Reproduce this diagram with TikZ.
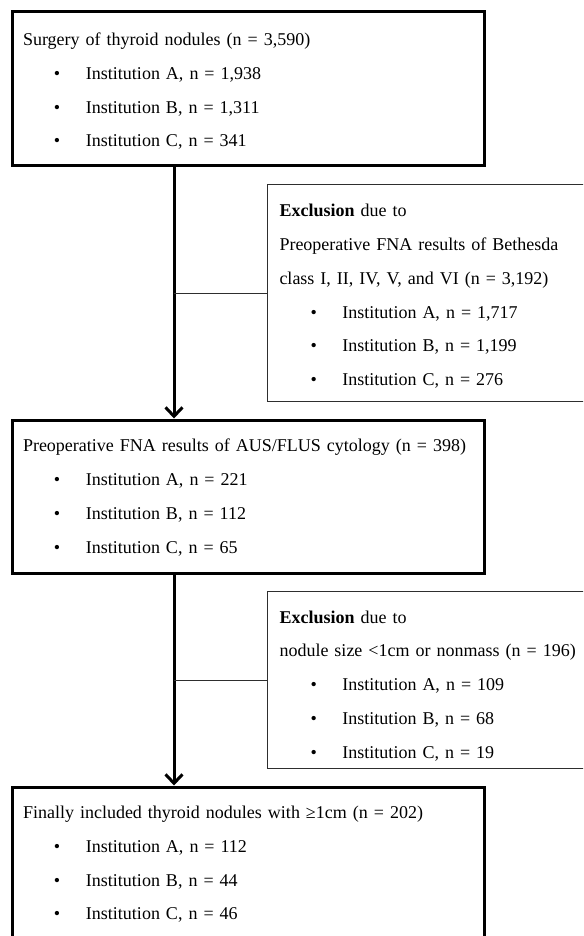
\documentclass[tikz,border=0pt]{standalone}
\usepackage{fontspec}
\setmainfont{Liberation Serif}
\usetikzlibrary{arrows.meta}
\definecolor{Ink}{HTML}{000000}
\definecolor{Rule}{HTML}{2E2E2E}
\newcommand{\institem}[2]{\hspace*{31pt}\makebox[32pt][l]{\textbullet}Institution #1, n = #2}
\newcommand{\topgap}[1]{\rule{0pt}{#1}}

\begin{document}
\begin{tikzpicture}[x=1pt,y=-1pt,font=\fontsize{18}{33.8}\selectfont,text=Ink,mainbox/.style={draw=Ink,line width=3pt,fill=white,text width=450pt,align=left,inner xsep=11pt,inner ysep=0pt},exclbox/.style={draw=Rule,line width=1pt,fill=white,text width=330pt,align=left,inner xsep=12pt,inner ysep=0pt},arrow/.style={-{Straight Barb[length=9pt,width=17pt]},line width=3pt,draw=Ink},branch/.style={draw=Rule,line width=1pt}]
\useasboundingbox (0,0) rectangle (583,936);
\clip (0,0) rectangle (583,936);
\fill[white] (0,0) rectangle (583,936);
\coordinate (spine) at (174,0);
\node[mainbox,minimum height=154pt] (surgery) at (248,89){\topgap{17pt}Surgery of thyroid nodules (n = 3,590)\\\institem{A}{1,938}\\\institem{B}{1,311}\\\institem{C}{341}};
\node[exclbox,anchor=north west,minimum height=217pt] (bethesda) at (267,184){\topgap{19pt}\textbf{Exclusion} due to\\Preoperative FNA results of Bethesda\\class I, II, IV, V, and VI (n = 3,192)\\\institem{A}{1,717}\\\institem{B}{1,199}\\\institem{C}{276}};
\node[mainbox,minimum height=153pt] (ausflus) at (248,496.5){\topgap{15pt}\mbox{Preoperative FNA results of AUS/FLUS cytology (n = 398)}\\\institem{A}{221}\\\institem{B}{112}\\\institem{C}{65}};
\node[exclbox,anchor=north west,minimum height=177pt] (size) at (267,591){\topgap{24pt}\textbf{Exclusion} due to\\nodule size <1cm or nonmass (n = 196)\\\institem{A}{109}\\\institem{B}{68}\\\institem{C}{19}};
\node[mainbox,minimum height=152pt] (final) at (248,863){\topgap{15pt}Finally included thyroid nodules with ≥1cm (n = 202)\\\institem{A}{112}\\\institem{B}{44}\\\institem{C}{46}};
\draw[arrow] (surgery.south -| spine) -- (ausflus.north -| spine);
\draw[arrow] (ausflus.south -| spine) -- (final.north -| spine);
\draw[branch] (bethesda.west) -- (bethesda.west -| spine);
\draw[branch] (size.west) -- (size.west -| spine);
\end{tikzpicture}
\end{document}
